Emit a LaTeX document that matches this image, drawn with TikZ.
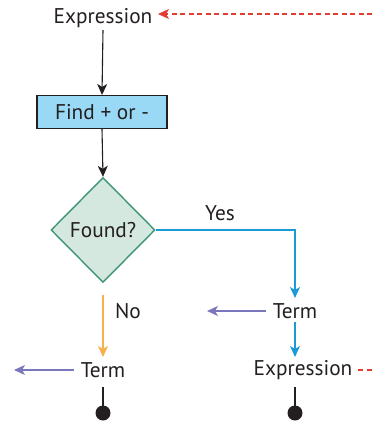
\documentclass[tikz,border=0pt]{standalone}
\usepackage{fontspec}
\setmainfont{PT Sans}
\usetikzlibrary{arrows.meta,shapes.geometric}
\definecolor{boxblue}{RGB}{153,217,245}
\definecolor{diafill}{RGB}{213,232,224}
\definecolor{diadraw}{RGB}{62,148,118}
\definecolor{lineblue}{RGB}{27,154,214}
\definecolor{lineorange}{RGB}{247,176,74}
\definecolor{linepurple}{RGB}{123,119,189}
\definecolor{linered}{RGB}{224,60,49}
\definecolor{txt}{RGB}{35,31,32}
\begin{document}
\begin{tikzpicture}[x=1pt,y=-1pt,
  lbl/.style={inner sep=1pt,text=txt,font=\fontsize{21.3}{25}\selectfont},
  arr/.style={-{Stealth[length=11pt,width=10pt,inset=3pt]},line width=1.1pt},
  stem/.style={line width=2.4pt,txt},
  enddot/.style={circle,fill=txt,inner sep=0pt,minimum size=15pt}]
\useasboundingbox (0,0) rectangle (372,424);
\node[lbl] (e1) at (103,18) {Expression};
\node[lbl,draw=txt,line width=1.1pt,fill=boxblue,minimum width=130pt,minimum height=33pt] (find) at (102,112) {Find + or -};
\node[lbl,diamond,draw=diadraw,line width=1.4pt,fill=diafill,minimum width=104pt,minimum height=105pt,inner sep=0pt] (dia) at (103,230) {Found?};
\node[lbl] (yes) at (220,213) {Yes};
\node[lbl] (no) at (128,311) {No};
\node[lbl] (t2) at (295,311) {Term};
\node[lbl] (t1) at (103,370) {Term};
\node[lbl] (e2) at (303,370) {Expression};
\coordinate (r1) at (372,14);
\coordinate (e1r) at (158,14);
\coordinate (corner) at (295,230);
\coordinate (p1) at (207,311);
\coordinate (p2) at (14,370);
\coordinate (r2) at (372,370);
\coordinate (ostart) at (103,295);
\node[enddot] (d1) at (103,413) {};
\node[enddot] (d2) at (295,413) {};
\coordinate (s1) at (103,387);
\coordinate (s2) at (295,387);

\draw[arr,txt] (103,30) -- (find.north);
\draw[arr,txt] (find.south) -- (dia.north);
\draw[arr,linered,dashed,dash pattern=on 5pt off 3.5pt] (r1) -- (e1r);
\draw[arr,lineblue] (dia.east) -- (corner) -- (295,298);
\draw[arr,linepurple] (266,311) -- (p1);
\draw[arr,lineblue] (295,322) -- (295,357);
\draw[arr,lineorange] (ostart) -- (103,357);
\draw[arr,linepurple] (74,370) -- (p2);
\draw[linered,line width=1.1pt,dash pattern=on 5pt off 3.5pt] (358,370) -- (r2);
\draw[stem] (s1) -- (d1.center);
\draw[stem] (s2) -- (d2.center);
\end{tikzpicture}
\end{document}
